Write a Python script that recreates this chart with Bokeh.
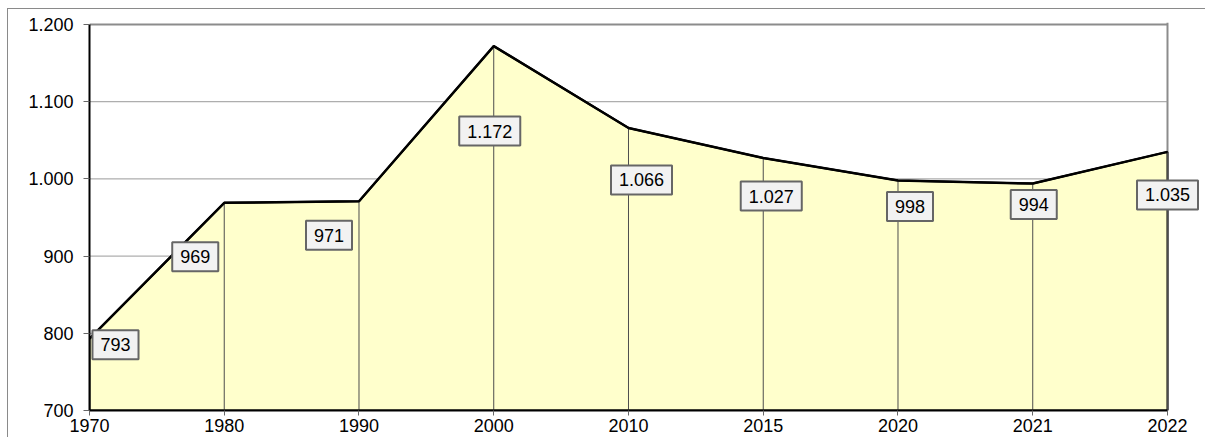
from bokeh.plotting import figure
from bokeh.models import Range1d, FixedTicker, Label, Span
from bokeh.embed import file_html
from bokeh.resources import INLINE

# ---- data ----
years = ["1970", "1980", "1990", "2000", "2010", "2015", "2020", "2021", "2022"]
values = [793, 969, 971, 1172, 1066, 1027, 998, 994, 1035]
value_labels = ["793", "969", "971", "1.172", "1.066", "1.027", "998", "994", "1.035"]
y_ticks = [700, 800, 900, 1000, 1100, 1200]
y_tick_labels = ["700", "800", "900", "1.000", "1.100", "1.200"]

# label placement offsets (pixels, dy positive = downward) relative to each point
label_dx = [26, -29, -30, -4, 13, 8, 12, 1, 0]
label_dy = [6, 54, 34, 85, 52, 38, 26, 21, 43]

idx = list(range(len(years)))
y_base = y_ticks[0]

FONT = "Liberation Sans"
GRAY = "#8c8c8c"

# extra room (data units) right of the category span / above top tick
PAD_R, PAD_T = 0.2746, 2.6

p = figure(width=1198, height=429, output_backend="svg", toolbar_location=None,
           x_range=Range1d(idx[0], idx[-1] + PAD_R),
           y_range=Range1d(y_ticks[0], y_ticks[-1] + PAD_T),
           min_border_left=81, min_border_right=2, min_border_top=13, min_border_bottom=28,
           background_fill_color="white", border_fill_color="white",
           styles={"border-left": "1px solid #8a8a8a", "border-top": "1px solid #8a8a8a",
                   "margin-left": "7px", "margin-top": "8px"})

p.outline_line_color = None
p.xgrid.visible = False
p.ygrid.visible = False

# horizontal grid lines limited to the category span
inner = y_ticks[:-1]
p.segment(x0=[idx[0]] * len(inner), x1=[idx[-1]] * len(inner), y0=inner, y1=inner,
          line_color="#9a9a9a", line_width=1)
# top border of plot area (at the top tick)
p.segment(x0=[idx[0]], x1=[idx[-1]], y0=[y_ticks[-1]], y1=[y_ticks[-1]],
          line_color=GRAY, line_width=2)

# right border of plot area
p.add_layout(Span(location=idx[-1], dimension="height", line_color=GRAY,
                  line_width=2, level="underlay"))

# area
poly_x = [idx[0]] + idx + [idx[-1]]
poly_y = [y_base] + values + [y_base]
p.patch(poly_x, poly_y, fill_color="#ffffcc", line_color="black", line_width=2)

# drop lines
p.segment(x0=idx, y0=[y_base] * len(idx), x1=idx, y1=values, line_color="#4d4d4d", line_width=1)

# line
p.line(idx, values, line_color="black", line_width=2.5)

# labels
for xi, yi, t, dx, dy in zip(idx, values, value_labels, label_dx, label_dy):
    p.add_layout(Label(x=xi, y=yi, text=t, x_offset=dx, y_offset=-dy,
                       text_align="center", text_baseline="middle",
                       text_font=FONT, text_font_size="18px", text_color="black",
                       background_fill_color="#f2f2f2", border_line_color="#666666",
                       border_line_width=2, padding=8))

# axes
xa = p.xaxis[0]
xa.ticker = FixedTicker(ticks=idx)
xa.bounds = (idx[0], idx[-1])
xa.major_label_overrides = {i: years[i] for i in idx}
xa.axis_line_color = "black"
xa.axis_line_width = 2
xa.major_tick_line_color = "#666666"
xa.major_tick_in = 0
xa.major_tick_out = 5
xa.minor_tick_line_color = None
xa.major_label_standoff = 3
xa.major_label_text_font = FONT
xa.major_label_text_font_size = "18px"
xa.major_label_text_color = "black"

ya = p.yaxis[0]
ya.ticker = FixedTicker(ticks=y_ticks)
ya.bounds = (y_ticks[0], y_ticks[-1])
ya.major_label_overrides = {t: l for t, l in zip(y_ticks, y_tick_labels)}
ya.axis_line_color = "black"
ya.axis_line_width = 2
ya.major_tick_line_color = "#666666"
ya.major_tick_in = 0
ya.major_tick_out = 6
ya.minor_tick_line_color = None
ya.major_label_standoff = 10
ya.major_label_text_font = FONT
ya.major_label_text_font_size = "18px"
ya.major_label_text_color = "black"

open("out.html", "w").write(file_html(p, INLINE))
